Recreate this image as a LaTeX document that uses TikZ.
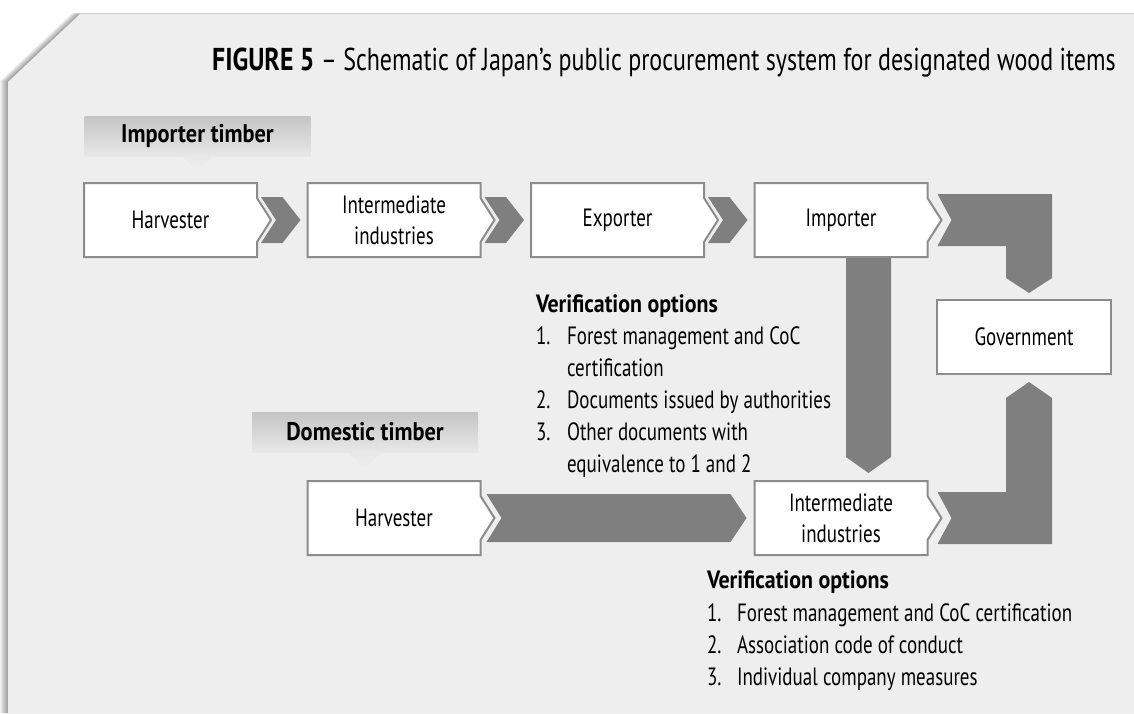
\documentclass[tikz,border=0pt]{standalone}
\usepackage{fontspec}
\setmainfont{PT Sans}[UprightFeatures={FakeStretch=0.76}, BoldFeatures={FakeStretch=0.877}]
\usepackage{graphicx}
\usetikzlibrary{calc}

\definecolor{panel}{HTML}{EEEEEE}
\definecolor{flow}{HTML}{7F7F7F}
\definecolor{rim}{HTML}{8C8C8C}
\definecolor{tagtop}{HTML}{C4C4C4}
\definecolor{tagbot}{HTML}{E8E8E8}

\pgfdeclarelayer{paper}
\pgfdeclarelayer{back}
\pgfsetlayers{paper,back,main}

\tikzset{
  stage/.style={draw=none, minimum width=173pt, minimum height=74pt,
    inner sep=0pt, outer sep=0pt, align=center,
    font=\fontsize{25}{31}\selectfont},
  rimline/.style={draw=rim, line width=2pt, fill=white, line join=miter},
  flowfill/.style={fill=flow, draw=none},
  tag/.style={minimum width=226pt, minimum height=40pt, inner sep=0pt,
    outer sep=0pt, font=\bfseries\fontsize{25.5}{28}\selectfont,
    top color=tagtop, bottom color=tagbot, draw=none},
  note/.style={anchor=base west, inner sep=0pt, outer sep=0pt,
    font=\fontsize{25}{28}\selectfont},
  notehead/.style={note, font=\bfseries\fontsize{25}{28}\selectfont},
}

% white box whose right side carries a small point
\newcommand\pointedoutline[1]{%
  \path[rimline] (#1.north west) -- (#1.north east)
    -- ($(#1.east)+(0,-22)$) -- ($(#1.east)+(14,0)$) -- ($(#1.east)+(0,22)$)
    -- (#1.south east) -- (#1.south west) -- cycle;}

% short chevron from box #1 to box #2
\newcommand\chevronflow[2]{%
  \path[flowfill] ($(#1.east)+(4,-23)$) -- ($(#1.east -| #2.west)+(-25,-23)$)
    -- ($(#1.east -| #2.west)+(-7,0)$) -- ($(#1.east -| #2.west)+(-25,23)$)
    -- ($(#1.east)+(4,23)$) -- ($(#1.east)+(19,0)$) -- cycle;}

\begin{document}
\begin{tikzpicture}[x=1pt,y=-1pt]
\useasboundingbox (0,0) rectangle (1134,713);

% page panel with its soft shadow
\begin{pgfonlayer}{paper}
  \fill[white] (0,0) rectangle (1134,713);
  \foreach \k in {1,...,8}{
    \fill[black, opacity=0.05]
      (8-\k,82-0.12*\k) -- (80-\k,14-0.12*\k) -- (1134,14-0.12*\k)
      -- (1134,713) -- (8-\k,713) -- cycle;
  }
  \fill[panel] (8,82) -- (80,14) -- (1134,14) -- (1134,713) -- (8,713) -- cycle;
\end{pgfonlayer}

% title
\node[anchor=base west, inner sep=0pt, font=\fontsize{31.6}{36}\selectfont] (title)
  at (212,70) {\scalebox{0.93}[1]{\textbf{FIGURE 5}} – Schematic of Japan’s public procurement system for designated wood items};

% group tags
\node[tag] (imptag) at (197.5,136) {Importer timber};
\node[tag] (domtag) at (365,432) {Domestic timber};

% stages
\node[stage] (h1) at (170.5,220) {Harvester};
\node[stage] (m1) at (394,220) {Intermediate\\industries};
\node[stage] (ex) at (617.5,220) {Exporter};
\node[stage] (im) at (841,220) {Importer};
\node[stage, minimum width=174pt] (gov) at (1024,337) {Government};
\node[stage] (h2) at (394,518) {Harvester};
\node[stage] (m2) at (841,518) {Intermediate\\industries};

% verification notes, import route
\node[notehead] (va0) at (536,312) {Verification options};
\node[note] (va1n) at (536,344) {1.};
\node[note] (va1)  at (567,344) {Forest management and CoC};
\node[note] (va1b) at (567,376) {certification};
\node[note] (va2n) at (536,408) {2.};
\node[note] (va2)  at (567,408) {Documents issued by authorities};
\node[note] (va3n) at (536,440) {3.};
\node[note] (va3)  at (567,440) {Other documents with};
\node[note] (va3b) at (567,472) {equivalence to 1 and 2};

% verification notes, domestic route
\node[notehead] (vb0) at (707,588) {Verification options};
\node[note] (vb1n) at (707,621) {1.};
\node[note] (vb1)  at (737,621) {Forest management and CoC certification};
\node[note] (vb2n) at (707,653) {2.};
\node[note] (vb2)  at (737,653) {Association code of conduct};
\node[note] (vb3n) at (707,685) {3.};
\node[note] (vb3)  at (737,685) {Individual company measures};

\begin{pgfonlayer}{back}
  % tag pointers
  \path[top color=tagbot, bottom color=panel]
    ($(imptag.south)+(-16,0)$) -- ($(imptag.south)+(16,0)$) -- ($(imptag.south)+(0,14)$) -- cycle;
  \path[top color=tagbot, bottom color=panel]
    ($(domtag.south)+(-17,0)$) -- ($(domtag.south)+(17,0)$) -- ($(domtag.south)+(0,16)$) -- cycle;

  % import chain
  \chevronflow{h1}{m1}
  \chevronflow{m1}{ex}
  \chevronflow{ex}{im}

  % importer down to intermediate industries
  \path[flowfill] ($(im.south)+(5,-1)$) -- ($(im.south)+(50,-1)$)
    -- ($(m2.north)+(50,-24)$) -- ($(m2.north)+(27.5,-8)$) -- ($(m2.north)+(5,-24)$) -- cycle;

  % importer to government
  \path[flowfill] ($(im.east)+(10,-26)$) -- ($(im.east -| gov.north)+(28,-26)$)
    -- ($(gov.north)+(28,-22)$) -- ($(gov.north)+(5,-7)$) -- ($(gov.north)+(-18,-22)$)
    -- ($(im.east -| gov.north)+(-18,26)$) -- ($(im.east)+(10,26)$)
    -- ($(im.east)+(24,0)$) -- cycle;

  % domestic harvester to intermediate industries
  \path[flowfill] ($(h2.east)+(6,-24)$) -- ($(h2.east -| m2.west)+(-24,-24)$)
    -- ($(h2.east -| m2.west)+(-8,0)$) -- ($(h2.east -| m2.west)+(-24,24)$)
    -- ($(h2.east)+(6,24)$) -- ($(h2.east)+(21,0)$) -- cycle;

  % intermediate industries to government
  \path[flowfill] ($(m2.east)+(10,-26)$) -- ($(m2.east -| gov.south)+(-18,-26)$)
    -- ($(gov.south)+(-18,24)$) -- ($(gov.south)+(5,8)$) -- ($(gov.south)+(28,24)$)
    -- ($(m2.east -| gov.south)+(28,26)$) -- ($(m2.east)+(10,26)$)
    -- ($(m2.east)+(24,0)$) -- cycle;

  % box outlines
  \pointedoutline{h1}
  \pointedoutline{m1}
  \pointedoutline{ex}
  \pointedoutline{im}
  \pointedoutline{h2}
  \pointedoutline{m2}
  \path[rimline] (gov.north west) rectangle (gov.south east);
\end{pgfonlayer}
\end{tikzpicture}
\end{document}
